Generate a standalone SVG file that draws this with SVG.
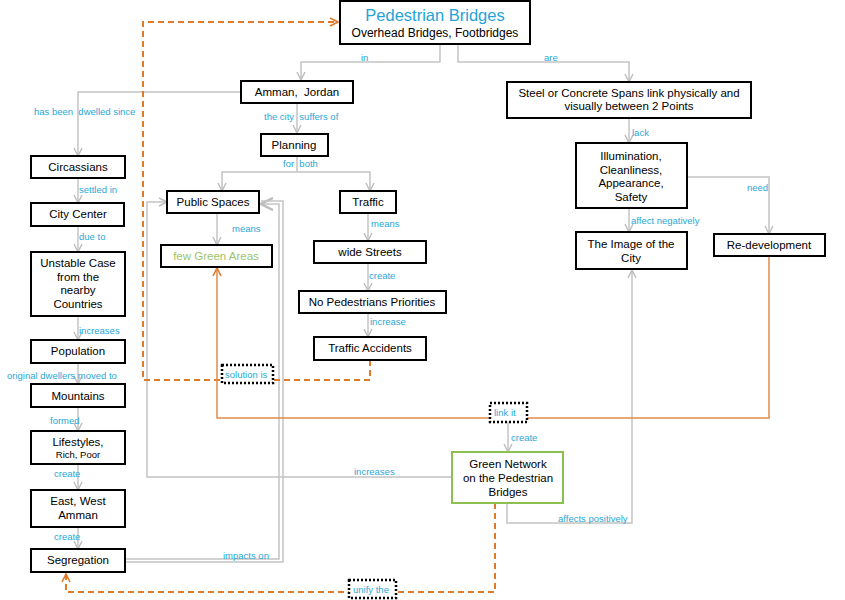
<svg xmlns="http://www.w3.org/2000/svg" width="845" height="600" viewBox="0 0 845 600">
<defs>
<style>
text{white-space:pre}
.box{fill:#fff;stroke:#000;stroke-width:2}
.gbox{fill:#fff;stroke:#8cc152;stroke-width:2}
.t{font-family:"Liberation Sans",Arial,sans-serif;font-size:11.5px;fill:#000;text-anchor:middle}
.ts{font-family:"Liberation Sans",Arial,sans-serif;font-size:9.5px;fill:#000;text-anchor:middle}
.lbl{font-family:"Liberation Sans",Arial,sans-serif;font-size:9.5px;fill:#2aa7d8}
.c{fill:none;stroke:#c4c4c4;stroke-width:1.5}
.od{fill:none;stroke:#e07b2a;stroke-width:2;stroke-dasharray:6 4}
.os{fill:none;stroke:#e08a4a;stroke-width:1.5}
.dot{fill:#fff;stroke:#000;stroke-width:2.5;stroke-dasharray:2 2}
</style>
<marker id="ag" viewBox="0 0 10 10" refX="9" refY="5" markerWidth="10" markerHeight="10" markerUnits="userSpaceOnUse" orient="auto"><path d="M1,1 L9,5 L1,9" fill="none" stroke="#bdbdbd" stroke-width="1.4"/></marker>
<marker id="agb" viewBox="0 0 14 14" refX="13" refY="7" markerWidth="14" markerHeight="14" markerUnits="userSpaceOnUse" orient="auto"><path d="M1,1 L13,7 L1,13" fill="none" stroke="#bdbdbd" stroke-width="2.5"/></marker>
<marker id="ao" viewBox="0 0 10 10" refX="9" refY="5" markerWidth="10" markerHeight="10" markerUnits="userSpaceOnUse" orient="auto"><path d="M1,1 L9,5 L1,9" fill="none" stroke="#e07b2a" stroke-width="1.6"/></marker>
</defs>
<rect width="845" height="600" fill="#fff"/>
<g id="connectors">
<path class="c" d="M440,45 V62 H301 V80" marker-end="url(#ag)"/>
<path class="c" d="M458,45 V62 H629 V82" marker-end="url(#ag)"/>
<path class="c" d="M241,92 H78 V156" marker-end="url(#ag)"/>
<path class="c" d="M297,103 V133" marker-end="url(#ag)"/>
<path class="c" d="M297,156 V172 H222 V191" marker-end="url(#ag)"/>
<path class="c" d="M297,172 H370 V191" marker-end="url(#ag)"/>
<path class="c" d="M217,213 V245" marker-end="url(#ag)"/>
<path class="c" d="M368,213 V241" marker-end="url(#ag)"/>
<path class="c" d="M368,263 V291" marker-end="url(#ag)"/>
<path class="c" d="M368,313 V337" marker-end="url(#ag)"/>
<path class="c" d="M78,178 V203" marker-end="url(#ag)"/>
<path class="c" d="M78,226 V252" marker-end="url(#ag)"/>
<path class="c" d="M78,316 V340" marker-end="url(#ag)"/>
<path class="c" d="M78,363 V384" marker-end="url(#ag)"/>
<path class="c" d="M78,407 V431" marker-end="url(#ag)"/>
<path class="c" d="M78,464 V490" marker-end="url(#ag)"/>
<path class="c" d="M78,527 V549" marker-end="url(#ag)"/>
<path class="c" d="M126,559 H279 V204 H261" marker-end="url(#agb)"/>
<path class="c" d="M126,562 H283 V201 H261"/>
<path class="c" d="M452,477 H147 V202 H167" marker-end="url(#ag)"/>
<path class="c" d="M508,422 V452" marker-end="url(#ag)"/>
<path class="c" d="M507,503 V523 H632 V270" marker-end="url(#ag)"/>
<path class="c" d="M629,118 V143" marker-end="url(#ag)"/>
<path class="c" d="M629,208 V232" marker-end="url(#ag)"/>
<path class="c" d="M687,177 H769 V234" marker-end="url(#ag)"/>
<path class="od" d="M370,360 V380 H143 V22 H338" marker-end="url(#ao)"/>
<path class="os" d="M769,256 V418 H217 V268" marker-end="url(#ao)"/>
<path class="od" d="M495,503 V592 H66 V574" marker-end="url(#ao)"/>
<rect class="dot" x="222" y="365" width="51" height="18"/>
<text class="lbl" x="225" y="378">solution is</text>
<rect class="dot" x="490" y="403" width="37" height="19"/>
<text class="lbl" x="494" y="416">link it</text>
<rect class="dot" x="349" y="580" width="47" height="18"/>
<text class="lbl" x="353" y="593">unify the</text>
<text class="lbl" x="361" y="61">in</text>
<text class="lbl" x="544" y="61">are</text>
<text class="lbl" x="34" y="115">has been  dwelled since</text>
<text class="lbl" x="264" y="120">the city  suffers of</text>
<text class="lbl" x="283" y="167">for  both</text>
<text class="lbl" x="232" y="232">means</text>
<text class="lbl" x="371" y="227">means</text>
<text class="lbl" x="369" y="279">create</text>
<text class="lbl" x="370" y="325">increase</text>
<text class="lbl" x="79" y="193">settled in</text>
<text class="lbl" x="79" y="240">due to</text>
<text class="lbl" x="79" y="334">increases</text>
<text class="lbl" x="7" y="379">original dwellers moved to</text>
<text class="lbl" x="50" y="424">formed</text>
<text class="lbl" x="54" y="477">create</text>
<text class="lbl" x="54" y="540">create</text>
<text class="lbl" x="223" y="559">impacts on</text>
<text class="lbl" x="354" y="475">increases</text>
<text class="lbl" x="511" y="441">create</text>
<text class="lbl" x="558" y="522">affects positively</text>
<text class="lbl" x="632" y="136">lack</text>
<text class="lbl" x="631" y="224">affect negatively</text>
<text class="lbl" x="747" y="191">need</text>
</g>
<g id="pedestrian-bridges">
<rect class="box" x="340" y="1" width="190" height="43"/>
<text class="t" x="435" y="21" style="font-size:16.5px;fill:#1fa3d8">Pedestrian Bridges</text>
<text class="t" x="435" y="37" style="font-size:12px">Overhead Bridges, Footbridges</text>
</g>
<g id="amman"><rect class="box" x="241" y="81" width="112" height="22"/><text class="t" x="297" y="96">Amman,  Jordan</text></g>
<g id="planning"><rect class="box" x="261" y="134" width="67" height="22"/><text class="t" x="294" y="149">Planning</text></g>
<g id="public-spaces"><rect class="box" x="167" y="191" width="92" height="22"/><text class="t" x="213" y="206">Public Spaces</text></g>
<g id="traffic"><rect class="box" x="340" y="191" width="56" height="22"/><text class="t" x="368" y="206">Traffic</text></g>
<g id="few-green-areas"><rect class="box" x="161" y="245" width="111" height="22"/><text class="t" x="216" y="260" style="fill:#9bc46a">few Green Areas</text></g>
<g id="wide-streets"><rect class="box" x="314" y="241" width="112" height="22"/><text class="t" x="370" y="256">wide Streets</text></g>
<g id="no-pedestrians"><rect class="box" x="299" y="291" width="147" height="22"/><text class="t" x="372" y="306">No Pedestrians Priorities</text></g>
<g id="traffic-accidents"><rect class="box" x="314" y="337" width="112" height="23"/><text class="t" x="370" y="352">Traffic Accidents</text></g>
<g id="circassians"><rect class="box" x="31" y="156" width="94" height="22"/><text class="t" x="78" y="171">Circassians</text></g>
<g id="city-center"><rect class="box" x="31" y="203" width="93" height="23"/><text class="t" x="78" y="218">City Center</text></g>
<g id="unstable-case"><rect class="box" x="31" y="252" width="94" height="64"/><text class="t" x="78" y="267">Unstable Case</text><text class="t" x="78" y="281">from the</text><text class="t" x="78" y="294">nearby</text><text class="t" x="78" y="308">Countries</text></g>
<g id="population"><rect class="box" x="31" y="340" width="94" height="23"/><text class="t" x="78" y="355">Population</text></g>
<g id="mountains"><rect class="box" x="31" y="384" width="94" height="23"/><text class="t" x="78" y="400">Mountains</text></g>
<g id="lifestyles"><rect class="box" x="31" y="431" width="94" height="33"/><text class="t" x="78" y="446">Lifestyles,</text><text class="ts" x="78" y="458">Rich, Poor</text></g>
<g id="east-west"><rect class="box" x="31" y="490" width="94" height="37"/><text class="t" x="78" y="505">East, West</text><text class="t" x="78" y="519">Amman</text></g>
<g id="segregation"><rect class="box" x="31" y="549" width="94" height="23"/><text class="t" x="78" y="564">Segregation</text></g>
<g id="steel-spans"><rect class="box" x="507" y="82" width="244" height="36"/><text class="t" x="629" y="97">Steel or Concrete Spans link physically and</text><text class="t" x="629" y="110">visually between 2 Points</text></g>
<g id="illumination"><rect class="box" x="576" y="143" width="111" height="65"/><text class="t" x="631" y="160">Illumination,</text><text class="t" x="631" y="174">Cleanliness,</text><text class="t" x="631" y="187">Appearance,</text><text class="t" x="631" y="201">Safety</text></g>
<g id="image-city"><rect class="box" x="576" y="232" width="111" height="37"/><text class="t" x="631" y="248">The Image of the</text><text class="t" x="631" y="262">City</text></g>
<g id="re-development"><rect class="box" x="714" y="234" width="111" height="22"/><text class="t" x="769" y="249">Re-development</text></g>
<g id="green-network"><rect class="gbox" x="452" y="452" width="111" height="51"/><text class="t" x="508" y="468">Green Network</text><text class="t" x="508" y="482">on the Pedestrian</text><text class="t" x="508" y="496">Bridges</text></g>
</svg>
